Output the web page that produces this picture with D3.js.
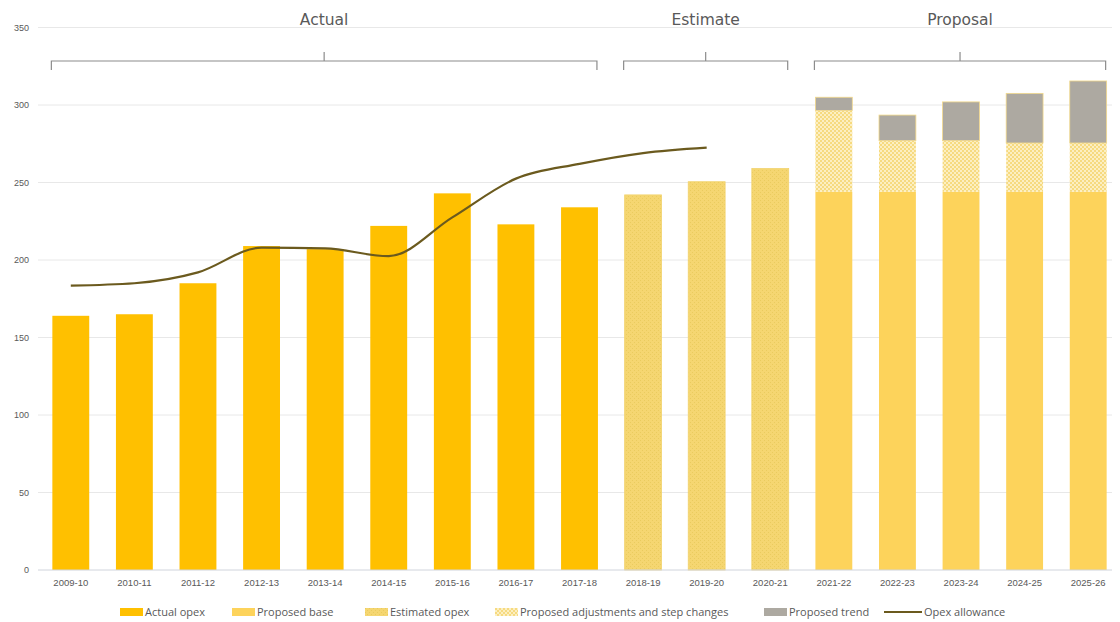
<!DOCTYPE html>
<html>
<head>
<meta charset="utf-8">
<script src="https://cdn.jsdelivr.net/npm/d3@7"></script>
<style>
  html, body { margin: 0; padding: 0; background: #fff; }
  svg { display: block; }
</style>
</head>
<body>
<svg id="chart" width="1120" height="622"></svg>
<script>
// Opex by regulatory year ($m)
const categories = ['2009-10','2010-11','2011-12','2012-13','2013-14','2014-15','2015-16','2016-17','2017-18',
                    '2018-19','2019-20','2020-21','2021-22','2022-23','2023-24','2024-25','2025-26'];
const actualOpex        = [164, 165, 185, 209, 207, 222, 243, 223, 234, null, null, null, null, null, null, null, null];
const estimatedOpex     = [null, null, null, null, null, null, null, null, null, 242, 250.5, 259, null, null, null, null, null];
const proposedBase      = [null, null, null, null, null, null, null, null, null, null, null, null, 244, 244, 244, 244, 244];
const proposedAdjust    = [null, null, null, null, null, null, null, null, null, null, null, null, 52.5, 33, 33, 31.5, 31.5];
const proposedTrend     = [null, null, null, null, null, null, null, null, null, null, null, null, 8.5, 16.5, 25, 32, 40];
const opexAllowance     = [183.5, 185, 192, 208, 207.5, 202.5, 227.5, 252.5, 262, 269, 272.5];
const yTicks = [0, 50, 100, 150, 200, 250, 300, 350];
const periods = [
  { label: 'Actual',   from: '2009-10', to: '2017-18' },
  { label: 'Estimate', from: '2018-19', to: '2020-21' },
  { label: 'Proposal', from: '2021-22', to: '2025-26' }
];
const legendItems = [
  { label: 'Actual opex', kind: 'actual' },
  { label: 'Proposed base', kind: 'base' },
  { label: 'Estimated opex', kind: 'estimated' },
  { label: 'Proposed adjustments and step changes', kind: 'adjust' },
  { label: 'Proposed trend', kind: 'trend' },
  { label: 'Opex allowance', kind: 'line' }
];

const svg = d3.select('#chart');
const textColor = '#595959';
const fills = {
  actual: '#FFC000',
  base: '#FDD35B',
  estimated: 'url(#estPattern)',
  adjust: 'url(#adjPattern)',
  trend: '#ADA9A1'
};

// Patterns for estimated and adjustment segments
const defs = svg.append('defs');
const est = defs.append('pattern').attr('id', 'estPattern')
  .attr('patternUnits', 'userSpaceOnUse').attr('width', 4).attr('height', 4);
est.append('rect').attr('width', 4).attr('height', 4).attr('fill', '#F5D671');
est.append('rect').attr('x', 0).attr('y', 0).attr('width', 1).attr('height', 1).attr('fill', '#EACB5E');
est.append('rect').attr('x', 2).attr('y', 2).attr('width', 1).attr('height', 1).attr('fill', '#EACB5E');

const adj = defs.append('pattern').attr('id', 'adjPattern')
  .attr('patternUnits', 'userSpaceOnUse').attr('width', 4).attr('height', 4);
adj.append('rect').attr('width', 4).attr('height', 4).attr('fill', '#FCEFC2');
adj.append('rect').attr('x', 0).attr('y', 0).attr('width', 2).attr('height', 2).attr('fill', '#F6DA80');
adj.append('rect').attr('x', 2).attr('y', 2).attr('width', 2).attr('height', 2).attr('fill', '#F6DA80');

const x = d3.scaleBand().domain(categories).range([39, 1120]).paddingInner(0.42).paddingOuter(0.21);
const y = d3.scaleLinear().domain([0, 350]).range([570, 27.5]);
const bw = x.bandwidth();
const plotLeft = 38, plotRight = 1112;

// Gridlines
svg.append('g').selectAll('line').data(yTicks.filter(d => d > 0)).join('line')
  .attr('x1', plotLeft).attr('x2', plotRight)
  .attr('y1', d => y(d)).attr('y2', d => y(d))
  .attr('stroke', '#E8E8E8').attr('stroke-width', 1);

// Y axis labels
const yAxis = svg.append('g').attr('transform', `translate(${plotLeft},0)`)
  .call(d3.axisLeft(y).tickValues(yTicks).tickSize(0).tickPadding(9));
yAxis.select('.domain').remove();
yAxis.selectAll('text').attr('fill', textColor).attr('font-size', 9)
  .attr('font-family', 'Liberation Sans, Arial, sans-serif');

// Bars
const barG = svg.append('g');
function drawSeries(values, bottoms, fill, stroke) {
  barG.append('g').selectAll('rect')
    .data(categories.map((c, i) => ({ c, v: values[i], b: bottoms ? (bottoms[i] || 0) : 0 })).filter(d => d.v != null))
    .join('rect')
    .attr('x', d => x(d.c))
    .attr('width', bw)
    .attr('y', d => y(d.b + d.v))
    .attr('height', d => y(d.b) - y(d.b + d.v))
    .attr('fill', fill)
    .attr('stroke', stroke || 'none')
    .attr('stroke-width', stroke ? 0.8 : 0);
}
drawSeries(actualOpex, null, fills.actual);
drawSeries(estimatedOpex, null, fills.estimated, '#F2D36E');
drawSeries(proposedBase, null, fills.base);
drawSeries(proposedAdjust, proposedBase, fills.adjust);
const adjTop = proposedBase.map((b, i) => b == null ? null : b + proposedAdjust[i]);
drawSeries(proposedTrend, adjTop, fills.trend, '#F3D98A');

// X axis baseline and labels
svg.append('line').attr('x1', plotLeft).attr('x2', plotRight)
  .attr('y1', y(0)).attr('y2', y(0)).attr('stroke', '#D0D4DC').attr('stroke-width', 1);
const xAxis = svg.append('g').attr('transform', `translate(0,${y(0)})`)
  .call(d3.axisBottom(x).tickSize(0).tickPadding(9));
xAxis.select('.domain').remove();
xAxis.selectAll('text').attr('fill', textColor).attr('font-size', 9.5)
  .attr('font-family', 'Liberation Sans, Arial, sans-serif');

// Opex allowance line
const line = d3.line()
  .x((d, i) => x(categories[i]) + bw / 2)
  .y(d => y(d))
  .curve(d3.curveMonotoneX);
svg.append('path').datum(opexAllowance)
  .attr('d', line).attr('fill', 'none')
  .attr('stroke', '#6B5A1E').attr('stroke-width', 2.2);

// Period brackets with labels
const brG = svg.append('g');
periods.forEach(p => {
  const x0 = x(p.from) - 1;
  const x1 = x(p.to) + bw - 1;
  const yb = 61;
  const mid = (x0 + x1) / 2;
  brG.append('path')
    .attr('d', `M${x0},${yb + 9}V${yb}H${x1}V${yb + 9}M${mid},${yb}V${yb - 9}`)
    .attr('fill', 'none').attr('stroke', '#8C8C8C').attr('stroke-width', 1.2);
  brG.append('text').attr('x', mid).attr('y', 25)
    .attr('text-anchor', 'middle').attr('fill', textColor)
    .attr('font-size', 15.5).attr('font-family', 'DejaVu Sans, sans-serif')
    .text(p.label);
});

// Legend
const legendPos = [120, 232, 365, 495, 764, 884];
const lg = svg.append('g').attr('transform', 'translate(0,612)');
legendItems.forEach((d, i) => {
  const g = lg.append('g').attr('transform', `translate(${legendPos[i]},0)`);
  let tx;
  if (d.kind === 'line') {
    g.append('line').attr('x1', 0).attr('x2', 38).attr('y1', 0).attr('y2', 0)
      .attr('stroke', '#6B5A1E').attr('stroke-width', 2);
    tx = 40;
  } else {
    g.append('rect').attr('x', 0).attr('y', -4).attr('width', 23).attr('height', 8)
      .attr('fill', fills[d.kind]);
    tx = 25;
  }
  g.append('text').attr('x', tx).attr('y', 4)
    .attr('fill', textColor).attr('font-size', 11)
    .attr('font-family', 'Open Sans, Liberation Sans, sans-serif')
    .text(d.label);
});
</script>
</body>
</html>
